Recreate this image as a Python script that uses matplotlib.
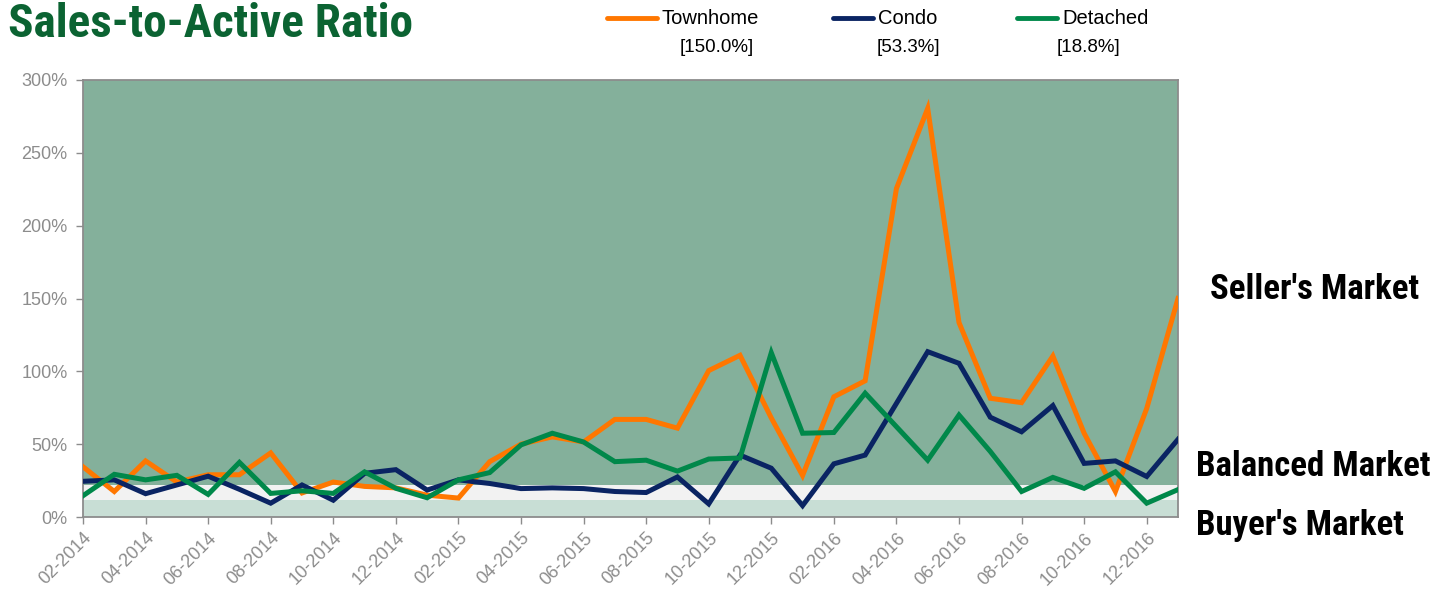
import matplotlib
matplotlib.use("Agg")
import matplotlib.pyplot as plt
from matplotlib.lines import Line2D
from matplotlib.ticker import PercentFormatter

# ---- data ----
months = [f"{m:02d}-{y}" for y in (2014, 2015, 2016, 2017) for m in range(1, 13)][1:37]
townhome = [34.5, 17.5, 38.5, 24, 29, 29, 44, 16.5, 24, 21, 20, 15,
            13, 38, 50, 55, 51.5, 67, 67, 61, 100.5, 111, 68, 28.5,
            82.5, 93.5, 225.5, 280.5, 133.5, 81.5, 78.5, 110.5, 57.5, 17.5, 74.5, 150.0]
condo = [24.5, 25.5, 16, 22, 28, 19, 9.5, 22, 11.5, 30, 32.5, 18.5,
         25.5, 23, 19.5, 20, 19.5, 17.5, 16.8, 27.5, 9, 42.5, 33.5, 7.8,
         36.5, 42.5, 78, 113.5, 105.5, 68.5, 58.5, 76.5, 36.8, 38.5, 27.8, 53.3]
detached = [14.6, 29.3, 25.5, 28.6, 15.5, 37.5, 16.2, 18, 16.2, 31, 19.7, 13.2,
            25.5, 30.5, 49.5, 57.5, 51.5, 38, 39, 31.5, 39.8, 40.5, 112.8, 57.5,
            58, 85, 62, 39, 70, 45, 17.5, 27.2, 19.7, 31, 9.5, 18.8]
series_names = ["Townhome", "Condo", "Detached"]
series_values = [townhome, condo, detached]
last_labels = ["[150.0%]", "[53.3%]", "[18.8%]"]
bands = [(0, 12, "#c8ded5"), (12, 22, "#f2f2f2"), (22, 300, "#84b09b")]
market_labels = ["Seller's Market", "Balanced Market", "Buyer's Market"]
yticks = [0, 50, 100, 150, 200, 250, 300]

colors = ["#ff7700", "#0a2463", "#00884a"]
GREY = "#8c8c8c"
COND = ["Roboto Condensed", "DejaVu Sans"]

fig = plt.figure(figsize=(14.48, 5.89), dpi=100)
ax = fig.add_axes([83 / 1448, 1 - 517 / 589, (1178 - 83) / 1448, (517 - 80) / 589])

x = list(range(len(months)))
for lo, hi, c in bands:
    ax.axhspan(lo, hi, color=c, zorder=0, lw=0)

for name, vals, c in zip(series_names, series_values, colors):
    ax.plot(x, vals, color=c, lw=3.6, solid_joinstyle="miter", label=name, zorder=3)

ax.set_xlim(0, len(months) - 1)
ax.set_ylim(0, 300)
ax.set_yticks(yticks)
ax.yaxis.set_major_formatter(PercentFormatter(decimals=0))
ax.set_xticks(x[::2])
ax.set_xticklabels(months[::2], rotation=45, ha="right", rotation_mode="anchor",
                   family="Liberation Sans", fontsize=13, color=GREY)
for lab in ax.get_yticklabels():
    lab.set_family("Liberation Sans")
    lab.set_fontsize(13)
    lab.set_color(GREY)
ax.tick_params(axis="both", colors=GREY, length=5, width=1, direction="out")
ax.tick_params(axis="y", pad=6)
ax.tick_params(axis="x", pad=4)
for sp in ax.spines.values():
    sp.set_color(GREY)
    sp.set_linewidth(1.3)

# title
fig.text(8 / 1448, 1 - 24 / 589, "Sales-to-Active Ratio", family=COND, weight="bold",
         fontsize=34, color="#0b6332", va="center", ha="left")

# legend (manual)
leg_x = [(607, 657, 662, 717), (833, 873, 878, 908), (1017, 1057, 1062, 1088)]
for (x0, x1, tx, bx), name, c, lab in zip(leg_x, series_names, colors, last_labels):
    fig.add_artist(Line2D([x0 / 1448, x1 / 1448], [1 - 18 / 589] * 2, color=c, lw=3.5,
                          solid_capstyle="round", transform=fig.transFigure))
    fig.text(tx / 1448, 1 - 18 / 589, name, family="Liberation Sans", fontsize=14.5,
             color="black", va="center", ha="left")
    fig.text(bx / 1448, 1 - 47 / 589, lab, family="Liberation Sans", fontsize=13.5,
             color="black", va="center", ha="center")

# market labels
for txt, (mx, my) in zip(market_labels, [(1210, 289), (1196, 467), (1196, 525)]):
    fig.text(mx / 1448, 1 - my / 589, txt, family=COND, weight="bold", fontsize=25,
             color="black", va="center", ha="left")

fig.savefig("out.png", dpi=100)
